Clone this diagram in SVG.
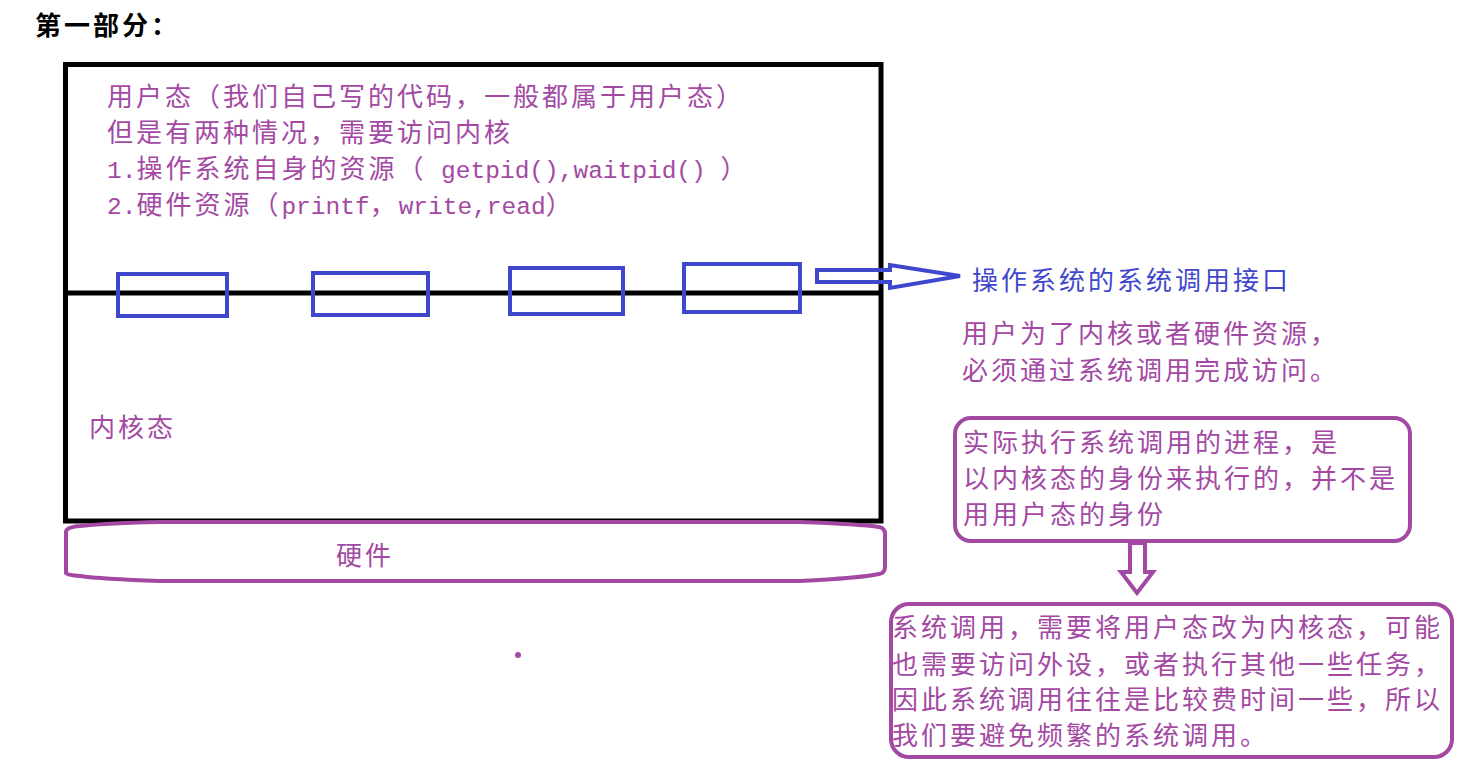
<svg xmlns="http://www.w3.org/2000/svg" width="1477" height="777" viewBox="0 0 1477 777">
<style>
.cjk{font-family:"Noto Sans CJK SC","Liberation Sans",sans-serif;font-size:26px;letter-spacing:3px}
.p{fill:#a349a4}
.b{fill:#3f48cc}
.mono{font-family:"Liberation Mono","Noto Sans CJK SC",monospace;font-size:24.5px;letter-spacing:0px}
.blk{fill:none;stroke:#000;stroke-width:5}
.bbox{fill:none;stroke:#3f48cc;stroke-width:4}
.pbox{fill:none;stroke:#a349a4;stroke-width:4}
</style>
<rect width="1477" height="777" fill="#fff"/>

<g id="title">
<text x="35" y="35" font-family="'Noto Sans CJK SC','Liberation Serif',serif" font-size="26" font-weight="bold" letter-spacing="3" fill="#000">第一部分：</text>
</g>

<g id="main-box">
<rect class="blk" x="65.5" y="64.5" width="815.5" height="456.5"/>
<line class="blk" x1="65.5" y1="293" x2="881" y2="293" stroke-width="4.5"/>
</g>

<g id="user-mode-text">
<text class="cjk p" x="107" y="106">用户态（我们自己写的代码，一般都属于用户态）</text>
<text class="cjk p" x="107" y="142">但是有两种情况，需要访问内核</text>
<text class="cjk p" x="107" y="178"><tspan class="mono">1.</tspan>操作系统自身的资源（<tspan class="mono"> getpid(),waitpid()  </tspan>）</text>
<text class="cjk p" x="107" y="214"><tspan class="mono">2.</tspan>硬件资源（<tspan class="mono">printf</tspan>，<tspan class="mono">write,read</tspan>）</text>
</g>

<g id="kernel-mode-text">
<text class="cjk p" x="89" y="437">内核态</text>
</g>

<g id="syscall-box-1"><rect class="bbox" x="118" y="274" width="109" height="42"/></g>
<g id="syscall-box-2"><rect class="bbox" x="313" y="273" width="115" height="42"/></g>
<g id="syscall-box-3"><rect class="bbox" x="510" y="268" width="113" height="46"/></g>
<g id="syscall-box-4"><rect class="bbox" x="684" y="264" width="116" height="48"/></g>

<g id="hardware">
<path class="pbox" d="M66,573 L66,532 Q66,527 80,526 Q110,523 160,522 L800,522 Q860,524 879,527 Q885,528 885,534 L885,567 Q885,573 879,574 Q860,578 800,581 L160,581 Q100,579 80,576 Q66,575 66,573 Z"/>
<text class="cjk p" x="336" y="565">硬件</text>
</g>

<g id="dot"><circle cx="518" cy="655" r="3" fill="#a349a4"/></g>

<g id="syscall-label">
<text class="cjk b" x="972" y="290">操作系统的系统调用接口</text>
</g>

<g id="note-1">
<text class="cjk p" x="962" y="343">用户为了内核或者硬件资源，</text>
<text class="cjk p" x="962" y="380">必须通过系统调用完成访问。</text>
</g>

<g id="note-2">
<rect class="pbox" x="955" y="418" width="455" height="123" rx="16"/>
<text class="cjk p" x="963" y="452">实际执行系统调用的进程，是</text>
<text class="cjk p" x="963" y="488">以内核态的身份来执行的，并不是</text>
<text class="cjk p" x="963" y="524">用用户态的身份</text>
</g>

<g id="note-3">
<rect class="pbox" x="891" y="604" width="561" height="153" rx="18"/>
<text class="cjk p" x="892" y="637">系统调用，需要将用户态改为内核态，可能</text>
<text class="cjk p" x="892" y="674">也需要访问外设，或者执行其他一些任务，</text>
<text class="cjk p" x="892" y="709">因此系统调用往往是比较费时间一些，所以</text>
<text class="cjk p" x="892" y="745">我们要避免频繁的系统调用。</text>
</g>

<g id="connectors">
<polygon class="bbox" points="817,270 890,270 890,265 960,276 890,288 890,282 817,282"/>
<polygon class="pbox" points="1130,543 1145,543 1145,572 1153,572 1137,593 1121,572 1130,572"/>
</g>
</svg>
